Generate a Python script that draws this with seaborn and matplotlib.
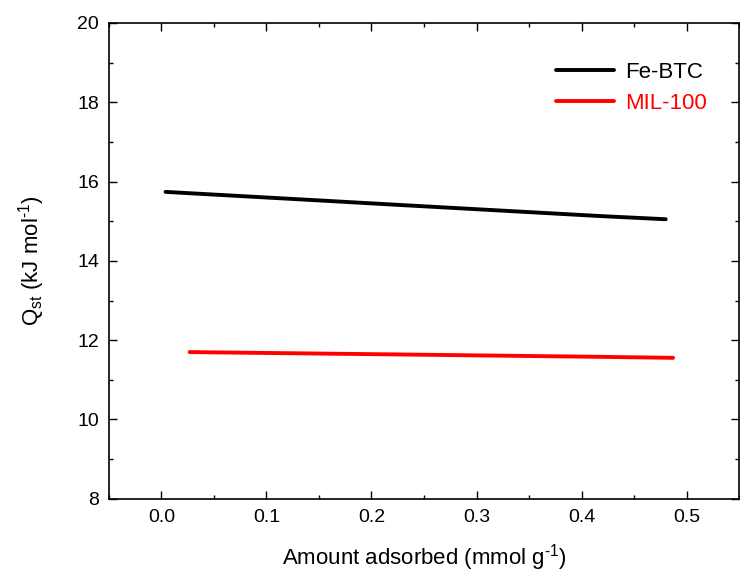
import matplotlib
matplotlib.use("Agg")
import matplotlib.pyplot as plt
import seaborn as sns
import pandas as pd
from matplotlib.ticker import MultipleLocator

# Data
febtc_x = [0.004, 0.160, 0.227, 0.418, 0.480]
febtc_y = [15.74, 15.51, 15.41, 15.13, 15.05]
mil_x = [0.027, 0.160, 0.227, 0.418, 0.487]
mil_y = [11.70, 11.66, 11.64, 11.58, 11.555]
series_names = ["Fe-BTC", "MIL-100"]
colors = ["#000000", "#ff0000"]
xtick_vals = [0.0, 0.1, 0.2, 0.3, 0.4, 0.5]
xtick_labels = ["0.0", "0.1", "0.2", "0.3", "0.4", "0.5"]

df = pd.DataFrame({
    "x": febtc_x + mil_x,
    "y": febtc_y + mil_y,
    "series": [series_names[0]] * len(febtc_x) + [series_names[1]] * len(mil_x),
})

sns.set_theme(style="white")
plt.rcParams["font.family"] = ["Liberation Sans", "DejaVu Sans"]
plt.rcParams["mathtext.fontset"] = "custom"
plt.rcParams["mathtext.rm"] = "Liberation Sans"
plt.rcParams["mathtext.it"] = "Liberation Sans:italic"
plt.rcParams["mathtext.default"] = "regular"
for k in ["text.color", "axes.labelcolor", "xtick.color", "ytick.color"]:
    plt.rcParams[k] = "black"

fig = plt.figure(figsize=(7.40, 5.74), dpi=100)
ax = fig.add_axes([0.147, 0.131, 0.852, 0.829])

sns.lineplot(data=df, x="x", y="y", hue="series", palette=dict(zip(series_names, colors)),
             sort=False, linewidth=2.8, ax=ax, legend=True)

ax.set_xlim(-0.05, 0.55)
ax.set_ylim(8, 20)
ax.xaxis.set_minor_locator(MultipleLocator(0.05))
ax.yaxis.set_major_locator(MultipleLocator(2))
ax.yaxis.set_minor_locator(MultipleLocator(1))
ax.set_xticks(xtick_vals)
ax.set_xticklabels(xtick_labels)
ax.tick_params(which="both", direction="in", top=True, right=True, bottom=True, left=True,
               color="black", width=1.0)
ax.tick_params(which="major", length=6, labelsize=14, pad=7)
ax.tick_params(which="minor", length=3)
for s in ax.spines.values():
    s.set_color("black")
    s.set_linewidth(1.2)

ax.set_xlabel("Amount adsorbed (mmol g$^{\u20101}$)", fontsize=16, labelpad=12)
ax.set_ylabel("$Q_{st}$ (kJ mol$^{\u20101}$)", fontsize=16, labelpad=22)

leg = ax.legend(frameon=False, loc="upper right", bbox_to_anchor=(0.98, 0.96),
                fontsize=16, handlelength=2.6, handletextpad=0.5, labelspacing=0.45)
for text, c in zip(leg.get_texts(), colors):
    text.set_color(c)
for line in leg.get_lines():
    line.set_linewidth(2.8)

fig.savefig("out.png", dpi=100)
